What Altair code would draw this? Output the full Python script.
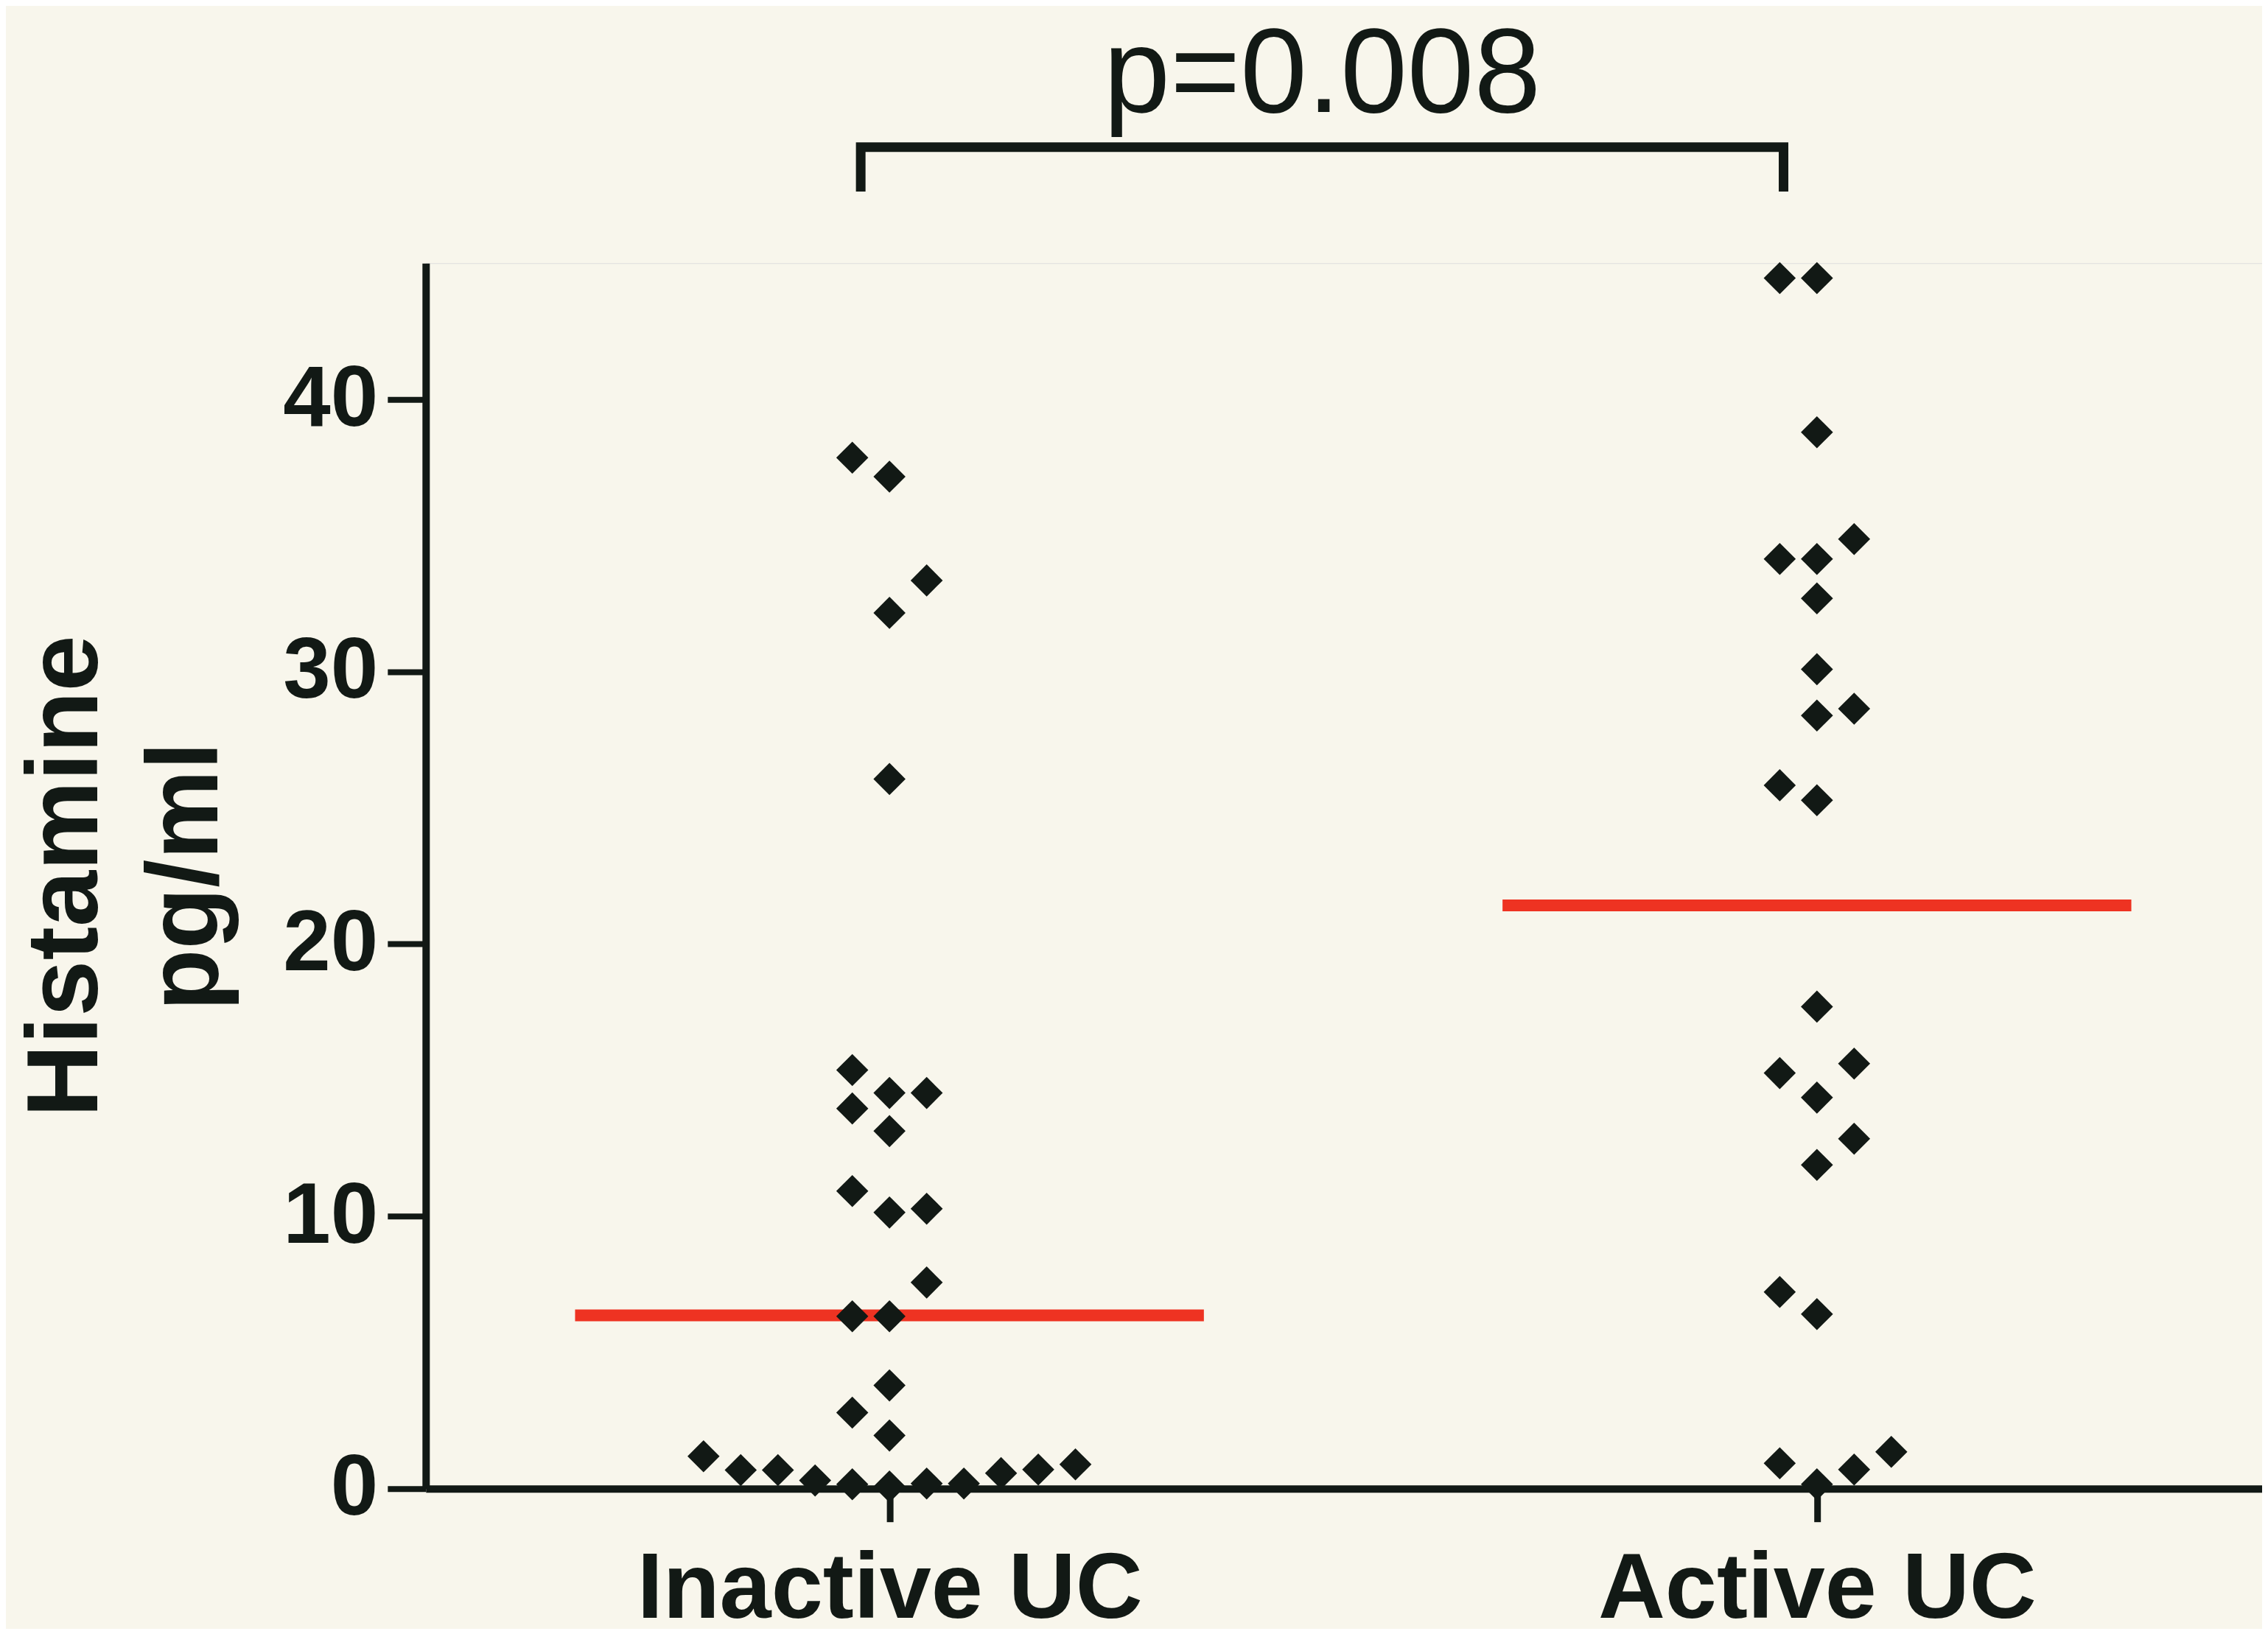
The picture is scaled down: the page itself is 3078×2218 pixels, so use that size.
import altair as alt
import pandas as pd

# ---- data ----
categories = ["Inactive UC", "Active UC"]
category_pos = [1, 2]

inactive_values = [37.86, 37.16, 33.35, 32.16, 26.06, 15.37, 14.53, 14.53, 13.96, 13.13,
                   10.93, 10.14, 10.28, 7.57, 6.33, 6.33, 3.79, 2.79, 1.95,
                   1.19, 0.68, 0.68, 0.30, 0.16, 0.08, 0.19, 0.19, 0.57, 0.70, 0.89]
inactive_cols = [-1, 0, 1, 0, 0, -1, 0, 1, -1, 0,
                 -1, 0, 1, 1, -1, 0, 0, -1, 0,
                 -5, -4, -3, -2, -1, 0, 1, 2, 3, 4, 5]

active_values = [44.45, 44.45, 38.79, 34.14, 34.14, 34.87, 32.69, 30.09, 28.39, 28.64,
                 25.83, 25.28, 17.70, 15.26, 15.61, 14.36, 12.85, 11.89, 7.22, 6.41,
                 0.93, 0.16, 0.70, 1.35]
active_cols = [-1, 0, 0, -1, 0, 1, 0, 0, 0, 1,
               -1, 0, 0, -1, 1, 0, 1, 0, -1, 0,
               -1, 0, 1, 2]

medians = [6.36, 21.42]

p_label = "p=0.008"
bracket_from, bracket_to = 0.969, 1.964
bracket_top, bracket_bottom = 49.26, 47.63
p_label_y = 50.55

y_ticks = [0, 10, 20, 30, 40]

# ---- layout / style ----
COL_STEP = 0.0401
HALF_LINE = 0.339
W, H = 2493, 1664
INK = "#121915"
RED = "#EE3322"
BG = "#F8F6EC"
FONT = "Liberation Sans"

rows = []
for vals, cols, pos, cat in [(inactive_values, inactive_cols, category_pos[0], categories[0]),
                             (active_values, active_cols, category_pos[1], categories[1])]:
    for v, c in zip(vals, cols):
        rows.append({"group": cat, "x": pos + c * COL_STEP, "y": v})
points_df = pd.DataFrame(rows)

med_df = pd.DataFrame({
    "group": categories,
    "x": [p - HALF_LINE for p in category_pos],
    "x2": [p + HALF_LINE for p in category_pos],
    "y": medians,
})

bracket_df = pd.DataFrame({
    "x": [bracket_from, bracket_from, bracket_to, bracket_to],
    "y": [bracket_bottom, bracket_top, bracket_top, bracket_bottom],
    "order": [0, 1, 2, 3],
})

text_df = pd.DataFrame({"x": [(bracket_from + bracket_to) / 2], "y": [p_label_y], "label": [p_label]})

label_expr = " : ".join(
    [f"datum.value == {p} ? '{c}'" for p, c in zip(category_pos, categories)]
) + " : ''"

xscale = alt.Scale(domain=[0.5, 2.48], nice=False, zero=False)
yscale = alt.Scale(domain=[0, 45], nice=False, zero=True)

xaxis = alt.Axis(
    values=category_pos, labelExpr=label_expr, title=None, grid=False,
    domainColor=INK, domainWidth=10, tickColor=INK, tickWidth=9, tickSize=45,
    labelFontSize=126, labelFontWeight="bold", labelColor=INK, labelPadding=30,
    labelFont=FONT, labelLimit=0, labelOverlap=False,
)
yaxis = alt.Axis(
    values=y_ticks, title=["Histamine", "pg/ml"], grid=False,
    domainColor=INK, domainWidth=10, tickColor=INK, tickWidth=8, tickSize=52,
    labelFontSize=116, labelFontWeight="bold", labelColor=INK, labelPadding=13,
    labelFont=FONT, labelLimit=0,
    titleFont=FONT, titleFontSize=137, titleFontWeight="bold", titleColor=INK,
    titleLineHeight=163, titleAngle=270, titleBaseline="top", titleAlign="center",
    titleX=-554, titleY=H / 2, titleLimit=0,
)

def X(field):
    return alt.X(field, type="quantitative", scale=xscale, axis=xaxis)

def Y(field):
    return alt.Y(field, type="quantitative", scale=yscale, axis=yaxis)

med_layer = alt.Chart(med_df).mark_rule(color=RED, strokeWidth=16).encode(
    x=X("x"), x2="x2", y=Y("y")
)

pts_layer = alt.Chart(points_df).mark_point(
    shape="diamond", filled=True, color=INK, size=1900, opacity=1
).encode(x=X("x"), y=Y("y"))

bracket_layer = alt.Chart(bracket_df).mark_line(
    color=INK, strokeWidth=13, strokeJoin="miter", strokeCap="butt"
).encode(x=X("x"), y=Y("y"), order="order:Q")

text_layer = alt.Chart(text_df).mark_text(
    font=FONT, fontSize=163, fontWeight="normal", color=INK,
    align="center", baseline="alphabetic"
).encode(x=X("x"), y=Y("y"), text="label:N")

chart = alt.layer(med_layer, pts_layer, bracket_layer, text_layer).properties(
    width=W, height=H,
    autosize=alt.AutoSizeParams(type="none"),
    padding={"left": 570, "top": 349, "right": 0, "bottom": 190},
    background=BG,
).configure_view(stroke="transparent", strokeWidth=0, fill="transparent").configure(font=FONT)

chart.save("out.html", embed_options={"renderer": "svg", "actions": False})
